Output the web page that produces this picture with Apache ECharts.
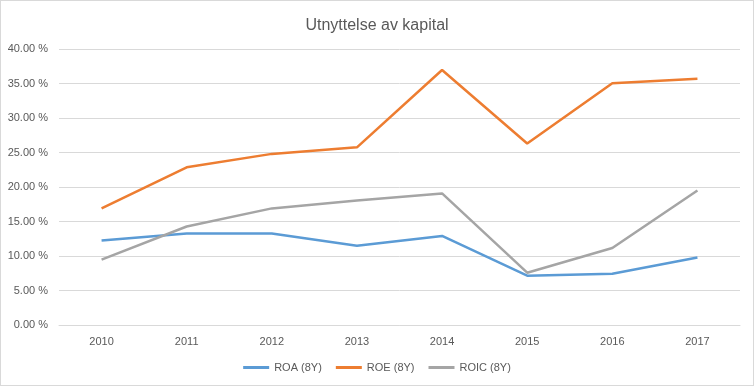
<!DOCTYPE html>
<html>
<head>
<meta charset="utf-8">
<script src="https://cdn.jsdelivr.net/npm/echarts@6/dist/echarts.min.js"></script>
<style>
html,body{margin:0;padding:0;background:#fff;}
#c{width:752px;height:384px;border:1px solid #d9d9d9;}
</style>
</head>
<body>
<div id="c"></div>
<script>
const categories = ['2010','2011','2012','2013','2014','2015','2016','2017'];
const roa  = [12.23, 13.25, 13.25, 11.5, 12.9, 7.15, 7.44, 9.77];
const roe  = [16.9, 22.85, 24.8, 25.75, 36.95, 26.3, 35.05, 35.7];
const roic = [9.47, 14.27, 16.9, 18.05, 19.07, 7.58, 11.17, 19.5];
const seriesNames = ['ROA (8Y)', 'ROE (8Y)', 'ROIC (8Y)'];
const colors = ['#5B9BD5', '#ED7D31', '#A5A5A5'];

const chart = echarts.init(document.getElementById('c'));
const font = 'Liberation Sans';
chart.setOption({
  animation: false,
  color: colors,
  title: {
    text: 'Utnyttelse av kapital',
    left: 'center',
    top: 12,
    textStyle: {fontFamily: font, fontSize: 16, fontWeight: 'normal', color: '#595959'}
  },
  grid: {left: 58, right: 13, top: 48, bottom: 60, containLabel: false},
  xAxis: {
    type: 'category',
    data: categories,
    boundaryGap: true,
    axisLine: {lineStyle: {color: '#d9d9d9'}},
    axisTick: {show: false},
    axisLabel: {color: '#595959', fontFamily: font, fontSize: 11, margin: 11}
  },
  yAxis: {
    type: 'value',
    min: 0, max: 40, interval: 5,
    axisLine: {show: false},
    axisTick: {show: false},
    splitLine: {lineStyle: {color: '#d9d9d9'}},
    axisLabel: {color: '#595959', fontFamily: font, fontSize: 11, margin: 11,
      formatter: v => v.toFixed(2) + ' %'}
  },
  legend: {
    bottom: 7,
    left: 'center',
    icon: 'rect',
    itemWidth: 26,
    itemHeight: 3,
    itemGap: 14,
    textStyle: {color: '#595959', fontFamily: font, fontSize: 11},
    data: seriesNames
  },
  series: [roa, roe, roic].map((d, i) => ({
    name: seriesNames[i],
    type: 'line',
    data: d,
    symbol: 'none',
    lineStyle: {width: 2.5, color: colors[i]},
    itemStyle: {color: colors[i]}
  }))
});
</script>
</body>
</html>
